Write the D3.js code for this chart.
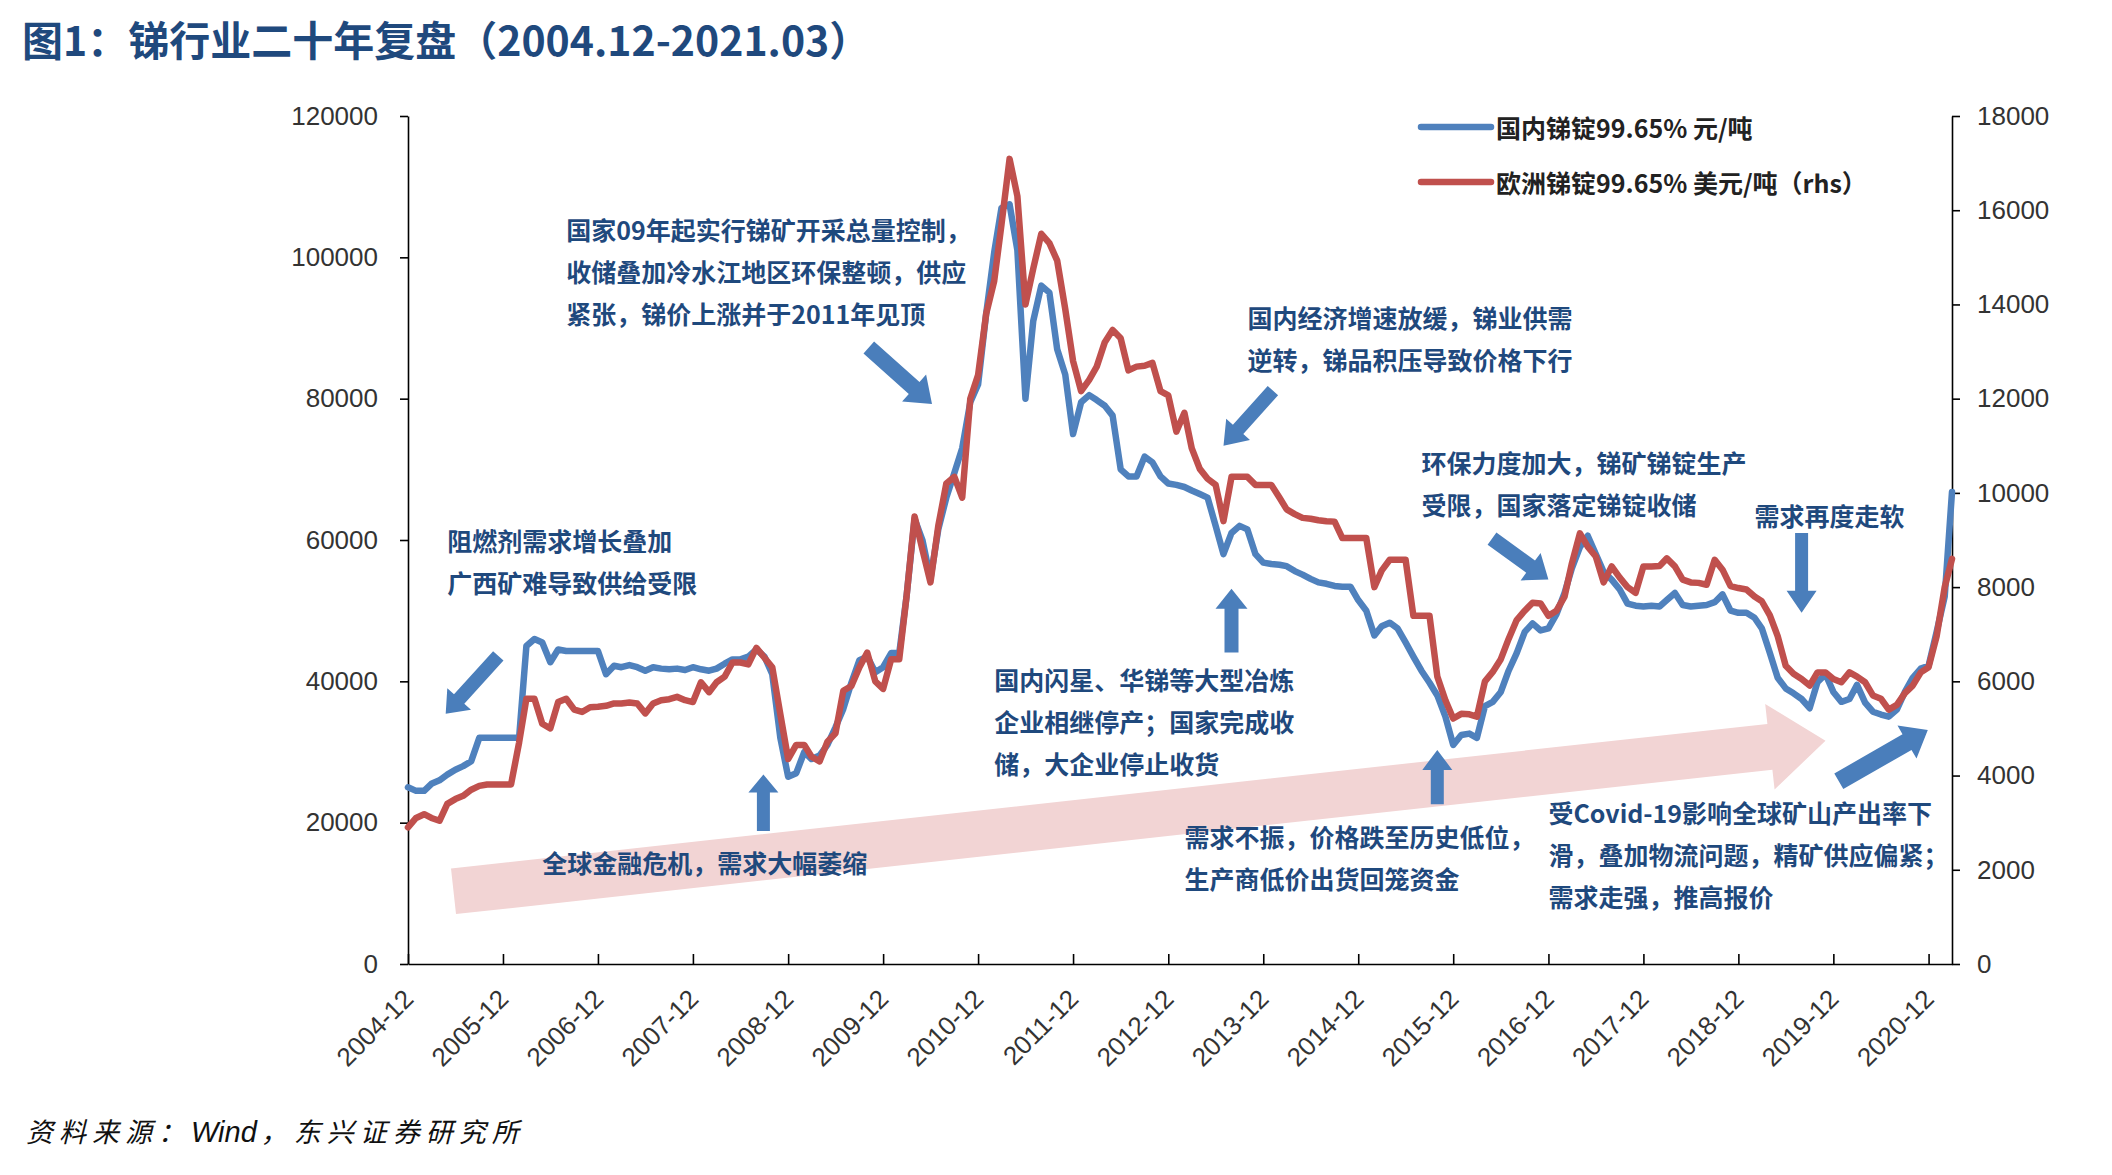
<!DOCTYPE html>
<html>
<head>
<meta charset="utf-8">
<script src="https://cdn.jsdelivr.net/npm/d3@7"></script>
<style>
  body { margin: 0; background: #fff; }
</style>
</head>
<body>
<div id="chart-area"></div>
<script>
// monthly series, first value = 2004-12, last = 2021-03
var startMonth = "2004-12";
var endMonth = "2021-03";

// 国内锑锭99.65% 元/吨 (left axis)
var domesticPrice = [
  25000,24500,24500,25500,26000,26800,27500,28000,28700,32000,32000,32000,
  32000,32000,32000,45000,46000,45500,42700,44500,44300,44300,44300,44300,
  44300,41000,42200,42000,42300,42000,41500,42000,41800,41700,41800,41600,
  42000,41700,41500,41800,42500,43100,43100,43500,44500,43500,41000,32000,
  26500,27000,30000,29000,29500,31000,33500,36100,39800,43000,43500,41300,
  42000,44000,44000,52000,63000,60000,54500,61500,66000,69500,73000,79500,
  82000,92000,100700,107000,107500,101000,80000,91000,96000,95000,87000,83400,
  75000,79500,80500,79800,79000,77600,70000,69000,69000,71800,71000,69000,
  68000,67800,67500,67000,66500,66000,62000,58000,61000,62000,61500,58000,
  56800,56600,56500,56300,55600,55100,54500,54000,53800,53500,53400,53400,
  51500,50000,46500,47800,48300,47500,45500,43500,41500,39800,38000,35000,
  31000,32400,32600,32000,36500,37100,38500,41500,44000,47000,48200,47200,
  47500,49500,52500,56000,59000,60600,58000,55500,54400,53000,51000,50700,
  50600,50700,50600,51500,52500,50800,50600,50700,50800,51200,52300,50000,
  49700,49700,49000,47500,44000,40500,39000,38300,37500,36200,39900,41000,
  38500,37100,37500,39500,37000,35700,35300,35000,36000,38500,40500,41800,
  42200,47000,52000,66800
];

// 欧洲锑锭99.65% 美元/吨 (right axis)
var europePrice = [
  2900,3100,3180,3100,3040,3400,3500,3570,3700,3780,3810,3810,
  3810,3810,4700,5630,5630,5100,5000,5560,5630,5400,5350,5450,
  5460,5480,5530,5530,5550,5530,5320,5530,5600,5620,5670,5600,
  5560,5980,5770,5980,6100,6400,6400,6360,6710,6500,6300,5300,
  4350,4650,4650,4400,4300,4720,4900,5800,5900,6300,6610,6000,
  5840,6470,6470,7800,9500,8800,8100,9300,10200,10340,9900,12000,
  12500,13800,14500,15700,17090,16300,14000,14760,15500,15300,14930,13900,
  12800,12160,12400,12680,13200,13460,13280,12600,12680,12700,12760,12160,
  12070,11300,11700,10950,10510,10300,10170,9400,10340,10340,10340,10170,
  10170,10170,9900,9650,9550,9470,9450,9420,9400,9390,9040,9040,
  9040,9040,8000,8350,8580,8580,8580,7390,7390,7390,6100,5600,
  5210,5310,5300,5250,6000,6200,6470,6900,7300,7500,7670,7650,
  7390,7500,7800,8500,9140,8860,8650,8100,8440,8200,8000,7880,
  8440,8440,8450,8610,8440,8160,8100,8090,8050,8580,8370,8020,
  7980,7950,7800,7700,7400,6960,6330,6160,6050,5910,6190,6190,
  6050,5980,6190,6100,5980,5700,5630,5400,5500,5750,5910,6190,
  6300,6960,8000,8600
];

var leftTicks = [0, 20000, 40000, 60000, 80000, 100000, 120000];
var rightTicks = [0, 2000, 4000, 6000, 8000, 10000, 12000, 14000, 16000, 18000];
var yearTicks = ["2004-12","2005-12","2006-12","2007-12","2008-12","2009-12","2010-12","2011-12",
  "2012-12","2013-12","2014-12","2015-12","2016-12","2017-12","2018-12","2019-12","2020-12"];

var seriesNames = ["国内锑锭99.65% 元/吨", "欧洲锑锭99.65% 美元/吨（rhs）"];
var seriesColors = ["#4F81BD", "#C0504D"];

// annotation text, placed at [date, left-axis value]
var notes = [
  { at: ["2005-05-01", 60000], lines: ["阻燃剂需求增长叠加", "广西矿难导致供给受限"] },
  { at: ["2006-08-01", 104000], lines: ["国家09年起实行锑矿开采总量控制，", "收储叠加冷水江地区环保整顿，供应", "紧张，锑价上涨并于2011年见顶"] },
  { at: ["2013-10-01", 91500], lines: ["国内经济增速放缓，锑业供需", "逆转，锑品积压导致价格下行"] },
  { at: ["2015-08-01", 71000], lines: ["环保力度加大，锑矿锑锭生产", "受限，国家落定锑锭收储"] },
  { at: ["2019-02-01", 63500], lines: ["需求再度走软"] },
  { at: ["2011-02-01", 40400], lines: ["国内闪星、华锑等大型冶炼", "企业相继停产；国家完成收", "储，大企业停止收货"] },
  { at: ["2006-05-01", 14500], lines: ["全球金融危机，需求大幅萎缩"] },
  { at: ["2013-02-01", 18100], lines: ["需求不振，价格跌至历史低位，", "生产商低价出货回笼资金"] },
  { at: ["2016-12-01", 21500], lines: ["受Covid-19影响全球矿山产出率下", "滑，叠加物流问题，精矿供应偏紧；", "需求走强，推高报价"] }
];

// block arrows: tail -> tip, with [shaft, head width, head length]
var arrows = [
  { from: ["2005-11-13", 43600], to: ["2005-04-25", 35400], size: [14, 32, 20] },
  { from: ["2009-10-07", 87250], to: ["2010-06-07", 79250], size: [16, 36, 24] },
  { from: ["2014-01-07", 81150], to: ["2013-07-01", 73340], size: [14, 32, 22] },
  { from: ["2016-04-28", 60200], to: ["2016-12-01", 54400], size: [15, 34, 22] },
  { from: ["2019-08-01", 61000], to: ["2019-08-01", 49700], size: [13, 30, 22] },
  { from: ["2008-08-28", 18800], to: ["2008-08-28", 26800], size: [13, 30, 18] },
  { from: ["2013-08-01", 44100], to: ["2013-08-01", 53100], size: [14, 32, 20] },
  { from: ["2015-10-01", 22600], to: ["2015-10-01", 30300], size: [13, 30, 20] },
  { from: ["2019-12-22", 25850], to: ["2020-11-28", 33100], size: [18, 38, 24] }
];
var trendArrow = { from: ["2005-05-25", 10290], to: ["2019-11-01", 31600], size: [46, 86, 56] };

var W = 2112, H = 1175;
var margin = { left: 408, right: 2112 - 1952, top: 116, bottom: 1175 - 964 };

var parseMonth = d3.timeParse("%Y-%m");
var parseDay = d3.timeParse("%Y-%m-%d");
var fmtMonth = d3.timeFormat("%Y-%m");

var months = d3.timeMonth.range(parseMonth(startMonth), d3.timeMonth.offset(parseMonth(endMonth), 1));
var rows = months.map(function(m, i) {
  return { date: m, cn: domesticPrice[i], eu: europePrice[i] };
});

var svg = d3.select("#chart-area").append("svg")
  .attr("width", W)
  .attr("height", H)
  .style("font-family", "'Noto Sans CJK SC', 'Liberation Sans', sans-serif");

var x = d3.scaleTime()
  .domain([parseMonth(startMonth), parseMonth(endMonth)])
  .range([margin.left, W - margin.right]);
var yL = d3.scaleLinear().domain([0, 120000]).range([H - margin.bottom, margin.top]);
var yR = d3.scaleLinear().domain([0, 18000]).range([H - margin.bottom, margin.top]);

function blockArrow(p1, p2, s) {
  var dx = p2[0] - p1[0], dy = p2[1] - p1[1];
  var len = Math.sqrt(dx * dx + dy * dy);
  var ux = dx / len, uy = dy / len, nx = -uy, ny = ux;
  var bx = p2[0] - ux * s[2], by = p2[1] - uy * s[2];
  var w = s[0] / 2, hw = s[1] / 2;
  var pts = [
    [p1[0] + nx * w, p1[1] + ny * w],
    [bx + nx * w, by + ny * w],
    [bx + nx * hw, by + ny * hw],
    p2,
    [bx - nx * hw, by - ny * hw],
    [bx - nx * w, by - ny * w],
    [p1[0] - nx * w, p1[1] - ny * w]
  ];
  return "M" + pts.map(function(p) { return p[0].toFixed(1) + "," + p[1].toFixed(1); }).join("L") + "Z";
}
function pos(a) { return [x(parseDay(a[0])), yL(a[1])]; }

// title
svg.append("text")
  .attr("x", 22).attr("y", 56)
  .attr("font-size", 41).attr("font-weight", 700)
  .attr("fill", "#1F497D")
  .text("图1：锑行业二十年复盘（2004.12-2021.03）");

// pink trend arrow behind everything
svg.append("path")
  .attr("d", blockArrow(pos(trendArrow.from), pos(trendArrow.to), trendArrow.size))
  .attr("fill", "#F2D4D4");

// axes
var axisFont = "'Liberation Sans', Arial, sans-serif";

var gL = svg.append("g")
  .attr("transform", "translate(" + margin.left + ",0)")
  .call(d3.axisLeft(yL).tickValues(leftTicks).tickSize(8).tickSizeOuter(0).tickPadding(22).tickFormat(d3.format("d")));
var gR = svg.append("g")
  .attr("transform", "translate(" + (W - margin.right) + ",0)")
  .call(d3.axisRight(yR).tickValues(rightTicks).tickSize(8).tickSizeOuter(0).tickPadding(17).tickFormat(d3.format("d")));
var gX = svg.append("g")
  .attr("transform", "translate(0," + (H - margin.bottom) + ")")
  .call(d3.axisBottom(x).tickValues(yearTicks.map(parseMonth)).tickSize(-10).tickSizeOuter(0).tickFormat(fmtMonth));

[gL, gR, gX].forEach(function(g) {
  g.selectAll("path, line").attr("stroke", "#000").attr("stroke-width", 1.6);
  g.selectAll("text").attr("font-family", axisFont).attr("font-size", 26).attr("fill", "#333");
});
gX.selectAll("text")
  .attr("y", 0).attr("dy", "0.35em").attr("x", 0)
  .attr("text-anchor", "end")
  .attr("transform", "translate(0,30) rotate(-45)");

// annotation arrows
svg.append("g").selectAll("path")
  .data(arrows)
  .enter()
  .append("path")
    .attr("d", function(d) { return blockArrow(pos(d.from), pos(d.to), d.size); })
    .attr("fill", "#4A7EBB");

// lines
var lineCn = d3.line().x(function(d) { return x(d.date); }).y(function(d) { return yL(d.cn); });
var lineEu = d3.line().x(function(d) { return x(d.date); }).y(function(d) { return yR(d.eu); });

svg.append("path").datum(rows)
  .attr("d", lineCn)
  .attr("fill", "none").attr("stroke", seriesColors[0])
  .attr("stroke-width", 6.5).attr("stroke-linejoin", "round").attr("stroke-linecap", "round");
svg.append("path").datum(rows)
  .attr("d", lineEu)
  .attr("fill", "none").attr("stroke", seriesColors[1])
  .attr("stroke-width", 6.5).attr("stroke-linejoin", "round").attr("stroke-linecap", "round");

// annotation text
var noteG = svg.append("g").selectAll("text")
  .data(notes)
  .enter()
  .append("text")
    .attr("x", function(d) { return pos(d.at)[0]; })
    .attr("y", function(d) { return pos(d.at)[1]; })
    .attr("font-size", 25).attr("font-weight", 700)
    .attr("fill", "#1F497D")
    .attr("dominant-baseline", "central");
noteG.selectAll("tspan")
  .data(function(d) { return d.lines.map(function(l, i) { return { t: l, i: i, x: pos(d.at)[0] }; }); })
  .enter()
  .append("tspan")
    .attr("x", function(d) { return d.x; })
    .attr("dy", function(d) { return d.i === 0 ? 0 : 42; })
    .text(function(d) { return d.t; });

// legend
var legend = svg.append("g").selectAll("g")
  .data(seriesNames)
  .enter()
  .append("g")
    .attr("transform", function(d, i) { return "translate(1421," + (127 + i * 55) + ")"; });
legend.append("line")
  .attr("x1", 0).attr("x2", 70).attr("y1", 0).attr("y2", 0)
  .attr("stroke", function(d, i) { return seriesColors[i]; })
  .attr("stroke-width", 6.5).attr("stroke-linecap", "round");
legend.append("text")
  .attr("x", 75).attr("y", 0)
  .attr("dominant-baseline", "central")
  .attr("font-size", 25).attr("font-weight", 700).attr("fill", "#222")
  .text(function(d) { return d; });

// source
var src = svg.append("text")
  .attr("x", 26).attr("y", 1142)
  .attr("font-size", 27).attr("font-style", "italic").attr("fill", "#111");
src.append("tspan").style("letter-spacing", "6px").text("资料来源：");
src.append("tspan").style("letter-spacing", "0px").attr("font-family", axisFont).attr("font-size", 29).text("Wind");
src.append("tspan").style("letter-spacing", "6px").attr("dx", 4).text("，东兴证券研究所");
</script>
</body>
</html>
